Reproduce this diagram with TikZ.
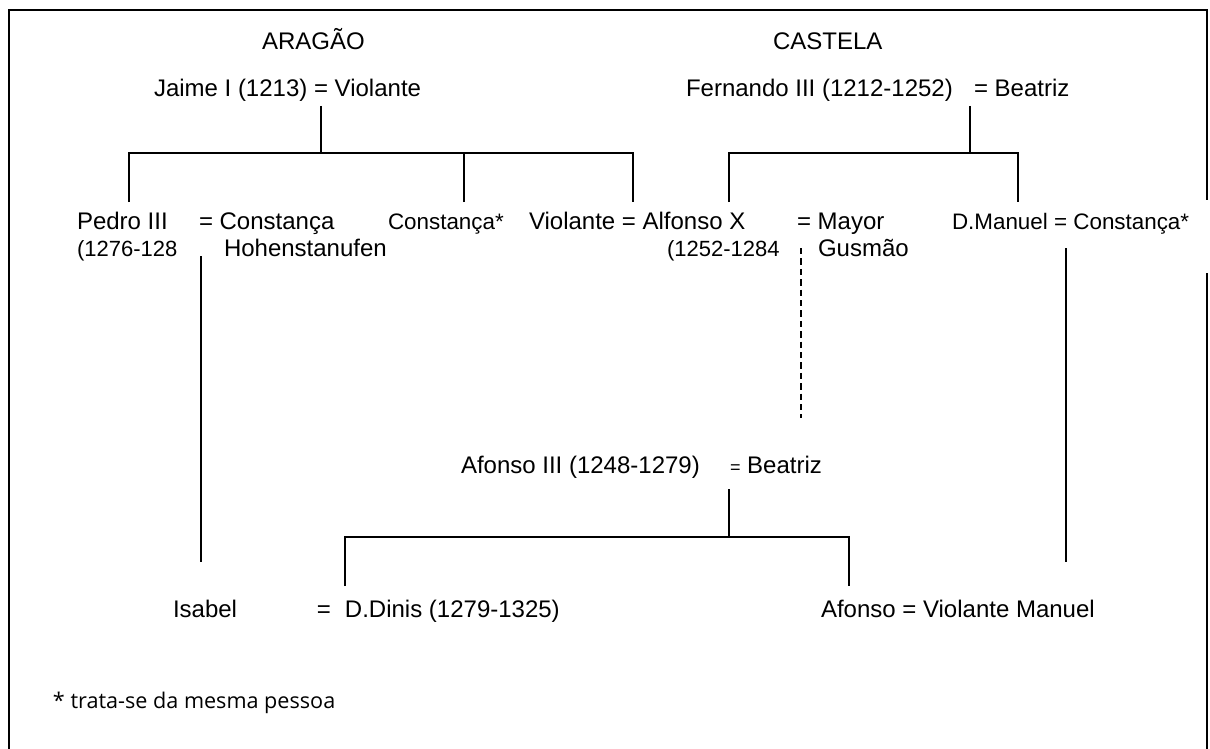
\documentclass[tikz,border=0pt]{standalone}
\usepackage{fontspec}
\setmainfont{Liberation Sans}
\newfontfamily\notafont{Open Sans}
\usetikzlibrary{positioning}

\begin{document}
\begin{tikzpicture}[x=0.5pt,y=-0.5pt,font=\fontsize{12}{14}\selectfont,
        every node/.style={inner sep=0pt,outer sep=0pt,anchor=base west},
        datas/.style={font=\fontsize{11}{13}\selectfont},
        asterisco/.style={font=\fontsize{11.2}{13}\selectfont},
        ramo/.style={line width=1pt},
        bastardo/.style={line width=1.2pt,dash pattern=on 3.2pt off 2pt},
        moldura/.style={line width=1.2pt}]
        \useasboundingbox (0,0) rectangle (1210,749);
        \draw[moldura] (9,749) -- (9,10) -- (1207,10) -- (1207,200) (1207,273) -- (1207,749);

        \node (aragao) at (262,50) {ARAGÃO};
        \node (castela) at (773,50) {CASTELA};
        \node (jaime) at (154,97) {Jaime I (1213) = Violante};
        \node (fernando) at (686,97) {Fernando III (1212-1252)};
        \node (beatrizC) at (974,97) {= Beatriz};

        \node (pedro) at (77,229) {Pedro III};
        \node (constancaH) at (199,229) {= Constança};
        \begin{scope}
            \clip (70,235) rectangle (177,270);
            \node[datas] (pedroanos) at (77,256) {(1276-1285)};
        \end{scope}
        \node (hohen) at (224,256) {Hohenstanufen};
        \node[asterisco] (constancaA) at (388,229) {Constança*};
        \node (alfonso) at (529,229) {Violante = Alfonso X};
        \begin{scope}
            \clip (660,235) rectangle (778,270);
            \node[datas] (alfonsoanos) at (667,256) {(1252-1284)};
        \end{scope}
        \node (mayor) at (797,229) {= Mayor};
        \node (gusmao) at (818,256) {Gusmão};
        \node[asterisco] (manuel) at (952,229) {D.Manuel = Constança*};

        \node (afonso3) at (461,473) {Afonso III (1248-1279)};
        \node (beatrizP) at (730,473) {{\fontsize{9}{9}\selectfont =} Beatriz};

        \node (isabel) at (173,617) {Isabel};
        \node (dinis) at (345,617) {\llap{=\hspace{7pt}}D.Dinis (1279-1325)};
        \node (afonso) at (821,617) {Afonso = Violante Manuel};

        \node[font=\notafont\fontsize{10.8}{13}\selectfont] (nota) at (53,708) {* trata-se da mesma pessoa};

        \coordinate (jaimeA) at (321,106);
        \coordinate (jaimeB) at (321,153);
        \coordinate (pedroA) at (129,202);
        \coordinate (constA) at (464,202);
        \coordinate (violA) at (633,202);
        \coordinate (fernA) at (970,106);
        \coordinate (fernB) at (970,153);
        \coordinate (alfA) at (729,202);
        \coordinate (manA) at (1018,202);
        \coordinate (isabelA) at (201,256);
        \coordinate (isabelB) at (201,562);
        \coordinate (mayorA) at (801,248);
        \coordinate (mayorB) at (801,418);
        \coordinate (manuelA) at (1066,248);
        \coordinate (manuelB) at (1066,562);
        \coordinate (afA) at (729,489);
        \coordinate (afB) at (729,537);
        \coordinate (dinisA) at (345,586);
        \coordinate (afonsoA) at (849,586);

        \draw[ramo] (jaimeA) -- (jaimeB);
        \draw[ramo] (pedroA) |- (jaimeB) -| (violA);
        \draw[ramo] (constA) -- (constA |- jaimeB);
        \draw[ramo] (fernA) -- (fernB);
        \draw[ramo] (alfA) |- (fernB) -| (manA);
        \draw[ramo] (isabelA) -- (isabelB);
        \draw[bastardo] (mayorA) -- (mayorB);
        \draw[ramo] (manuelA) -- (manuelB);
        \draw[ramo] (afA) -- (afB);
        \draw[ramo] (dinisA) |- (afB) -| (afonsoA);
\end{tikzpicture}
\end{document}
